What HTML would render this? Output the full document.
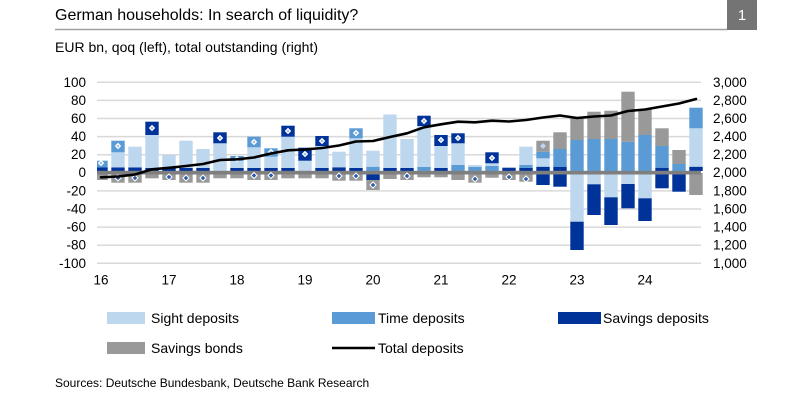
<!DOCTYPE html>
<html><head><meta charset="utf-8"><style>
html,body{margin:0;padding:0;background:#fff;}
svg{display:block;font-family:"Liberation Sans",Arial,sans-serif;}
.L{fill:#BDD7EE}.M{fill:#5B9BD5}.N{fill:#003399}.G{fill:#999999}
</style></head><body>
<svg width="806" height="406" viewBox="0 0 806 406" xmlns="http://www.w3.org/2000/svg">
<rect width="806" height="406" fill="#fff"/>
<text x="55" y="20" font-size="16" fill="#000">German households: In search of liquidity?</text>
<line x1="55" y1="29.5" x2="727" y2="29.5" stroke="#A0A0A0" stroke-width="1.5"/>
<rect x="727" y="0" width="30" height="30" fill="#747474"/>
<text x="742" y="20" font-size="15" fill="#fff" text-anchor="middle">1</text>
<text x="55" y="52" font-size="14" fill="#000">EUR bn, qoq (left), total outstanding (right)</text>

<g stroke="#D9D9D9" stroke-width="1.5">
<line x1="97" x2="701" y1="82.3" y2="82.3"/>
<line x1="97" x2="701" y1="100.4" y2="100.4"/>
<line x1="97" x2="701" y1="118.5" y2="118.5"/>
<line x1="97" x2="701" y1="136.6" y2="136.6"/>
<line x1="97" x2="701" y1="154.7" y2="154.7"/>
<line x1="97" x2="701" y1="190.9" y2="190.9"/>
<line x1="97" x2="701" y1="209" y2="209"/>
<line x1="97" x2="701" y1="227.1" y2="227.1"/>
<line x1="97" x2="701" y1="245.2" y2="245.2"/>
<line x1="97" x2="701" y1="263.3" y2="263.3"/>
</g>

<g font-size="13.5" fill="#000" text-anchor="end">
<text x="86" y="87">100</text>
<text x="86" y="105">80</text>
<text x="86" y="123">60</text>
<text x="86" y="141">40</text>
<text x="86" y="159">20</text>
<text x="86" y="177">0</text>
<text x="86" y="195.5">-20</text>
<text x="86" y="213.5">-40</text>
<text x="86" y="231.5">-60</text>
<text x="86" y="249.5">-80</text>
<text x="86" y="268">-100</text>
</g>
<g font-size="13.5" fill="#000">
<text x="713" y="87">3,000</text>
<text x="713" y="105">2,800</text>
<text x="713" y="123">2,600</text>
<text x="713" y="141">2,400</text>
<text x="713" y="159">2,200</text>
<text x="713" y="177">2,000</text>
<text x="713" y="195.5">1,800</text>
<text x="713" y="213.5">1,600</text>
<text x="713" y="231.5">1,400</text>
<text x="713" y="249.5">1,200</text>
<text x="713" y="268">1,000</text>
</g>
<g font-size="13.5" fill="#000" text-anchor="middle">
<text x="101" y="284.5">16</text>
<text x="169" y="284.5">17</text>
<text x="237" y="284.5">18</text>
<text x="305" y="284.5">19</text>
<text x="373" y="284.5">20</text>
<text x="441" y="284.5">21</text>
<text x="509" y="284.5">22</text>
<text x="577" y="284.5">23</text>
<text x="645" y="284.5">24</text>
</g>

<!-- bars -->
<g>
<!-- 0 -->
<rect class="N" x="97" width="10.7" y="167.5" height="3.5"/>
<rect class="M" x="97" width="10.7" y="160.7" height="6.8"/>
<rect class="G" x="97" width="10.7" y="173" height="7"/>
<!-- 1 -->
<rect class="N" x="111.3" width="13.4" y="167.5" height="3.5"/>
<rect class="L" x="111.3" width="13.4" y="152.3" height="15.2"/>
<rect class="M" x="111.3" width="13.4" y="140.7" height="11.6"/>
<rect class="G" x="111.3" width="13.4" y="173" height="9.7"/>
<!-- 2 -->
<rect class="N" x="128.3" width="13.4" y="167.5" height="3.5"/>
<rect class="L" x="128.3" width="13.4" y="146.7" height="20.8"/>
<rect class="G" x="128.3" width="13.4" y="173" height="9.7"/>
<!-- 3 -->
<rect class="N" x="145.3" width="13.4" y="168" height="3"/>
<rect class="L" x="145.3" width="13.4" y="135" height="33"/>
<rect class="N" x="145.3" width="13.4" y="121.7" height="13.3"/>
<rect class="G" x="145.3" width="13.4" y="173" height="5.3"/>
<!-- 4 -->
<rect class="N" x="162.3" width="13.4" y="168" height="3"/>
<rect class="L" x="162.3" width="13.4" y="155" height="13"/>
<rect class="G" x="162.3" width="13.4" y="173" height="7"/>
<!-- 5 -->
<rect class="N" x="179.3" width="13.4" y="168" height="3"/>
<rect class="L" x="179.3" width="13.4" y="140.7" height="27.3"/>
<rect class="G" x="179.3" width="13.4" y="173" height="9.7"/>
<!-- 6 -->
<rect class="N" x="196.3" width="13.4" y="168" height="3"/>
<rect class="L" x="196.3" width="13.4" y="149" height="19"/>
<rect class="G" x="196.3" width="13.4" y="173" height="9.7"/>
<!-- 7 -->
<rect class="L" x="213.3" width="13.4" y="143.3" height="27.7"/>
<rect class="N" x="213.3" width="13.4" y="132.3" height="11"/>
<rect class="G" x="213.3" width="13.4" y="173" height="5.3"/>
<!-- 8 -->
<rect class="N" x="230.3" width="13.4" y="168" height="3"/>
<rect class="L" x="230.3" width="13.4" y="161" height="7"/>
<rect class="M" x="230.3" width="13.4" y="156" height="5"/>
<rect class="G" x="230.3" width="13.4" y="173" height="5.3"/>
<!-- 9 -->
<rect class="N" x="247.3" width="13.4" y="168" height="3"/>
<rect class="L" x="247.3" width="13.4" y="147.3" height="20.7"/>
<rect class="M" x="247.3" width="13.4" y="136.7" height="10.6"/>
<rect class="G" x="247.3" width="13.4" y="173" height="7"/>
<!-- 10 -->
<rect class="N" x="264.3" width="13.4" y="168" height="3"/>
<rect class="L" x="264.3" width="13.4" y="156.7" height="11.3"/>
<rect class="M" x="264.3" width="13.4" y="148.3" height="8.4"/>
<rect class="G" x="264.3" width="13.4" y="173" height="7"/>
<!-- 11 -->
<rect class="N" x="281.3" width="13.4" y="168" height="3"/>
<rect class="L" x="281.3" width="13.4" y="136.7" height="31.3"/>
<rect class="N" x="281.3" width="13.4" y="125.7" height="11"/>
<rect class="G" x="281.3" width="13.4" y="173" height="5.3"/>
<!-- 12 -->
<rect class="L" x="298.3" width="13.4" y="160.7" height="10.3"/>
<rect class="N" x="298.3" width="13.4" y="147.7" height="13"/>
<rect class="G" x="298.3" width="13.4" y="173" height="5.3"/>
<!-- 13 -->
<rect class="N" x="315.3" width="13.4" y="168" height="3"/>
<rect class="L" x="315.3" width="13.4" y="146" height="22"/>
<rect class="N" x="315.3" width="13.4" y="136" height="10"/>
<rect class="G" x="315.3" width="13.4" y="173" height="5.3"/>
<!-- 14 -->
<rect class="N" x="332.3" width="13.4" y="167.3" height="3.7"/>
<rect class="L" x="332.3" width="13.4" y="151.7" height="15.6"/>
<rect class="G" x="332.3" width="13.4" y="173" height="7.7"/>
<!-- 15 -->
<rect class="N" x="349.3" width="13.4" y="168" height="3"/>
<rect class="L" x="349.3" width="13.4" y="138.3" height="29.7"/>
<rect class="M" x="349.3" width="13.4" y="128.3" height="10"/>
<rect class="G" x="349.3" width="13.4" y="173" height="7.7"/>
<!-- 16 -->
<rect class="M" x="366.3" width="13.4" y="166.7" height="4.3"/>
<rect class="L" x="366.3" width="13.4" y="150.7" height="16"/>
<rect class="N" x="366.3" width="13.4" y="173" height="7"/>
<rect class="G" x="366.3" width="13.4" y="180" height="10"/>
<!-- 17 -->
<rect class="N" x="383.3" width="13.4" y="168" height="3"/>
<rect class="L" x="383.3" width="13.4" y="114.5" height="53.5"/>
<rect class="G" x="383.3" width="13.4" y="173" height="6"/>
<!-- 18 -->
<rect class="N" x="400.3" width="13.4" y="168" height="3"/>
<rect class="L" x="400.3" width="13.4" y="139" height="29"/>
<rect class="G" x="400.3" width="13.4" y="173" height="7"/>
<!-- 19 -->
<rect class="M" x="417.3" width="13.4" y="167" height="4"/>
<rect class="L" x="417.3" width="13.4" y="126" height="41"/>
<rect class="N" x="417.3" width="13.4" y="115.7" height="10.3"/>
<rect class="G" x="417.3" width="13.4" y="173" height="4.3"/>
<!-- 20 -->
<rect class="N" x="434.3" width="13.4" y="168" height="3"/>
<rect class="L" x="434.3" width="13.4" y="146" height="22"/>
<rect class="N" x="434.3" width="13.4" y="135" height="11"/>
<rect class="G" x="434.3" width="13.4" y="173" height="4.3"/>
<!-- 21 -->
<rect class="M" x="451.3" width="13.4" y="165" height="6"/>
<rect class="L" x="451.3" width="13.4" y="143.3" height="21.7"/>
<rect class="N" x="451.3" width="13.4" y="133.3" height="10"/>
<rect class="G" x="451.3" width="13.4" y="173" height="7"/>
<!-- 22 -->
<rect class="M" x="468.3" width="13.4" y="167" height="4"/>
<rect class="L" x="468.3" width="13.4" y="165" height="2"/>
<rect class="G" x="468.3" width="13.4" y="173" height="9.7"/>
<!-- 23 -->
<rect class="M" x="485.3" width="13.4" y="166" height="5"/>
<rect class="L" x="485.3" width="13.4" y="163.3" height="2.7"/>
<rect class="N" x="485.3" width="13.4" y="152.3" height="11"/>
<rect class="G" x="485.3" width="13.4" y="173" height="4.7"/>
<!-- 24 -->
<rect class="N" x="502.3" width="13.4" y="167.7" height="3.3"/>
<rect class="G" x="502.3" width="13.4" y="173" height="7"/>
<!-- 25 -->
<rect class="N" x="519.3" width="13.4" y="168" height="3"/>
<rect class="M" x="519.3" width="13.4" y="165" height="3"/>
<rect class="L" x="519.3" width="13.4" y="146.7" height="18.3"/>
<rect class="G" x="519.3" width="13.4" y="173" height="8.7"/>
<!-- 26 -->
<rect class="N" x="536.3" width="13.4" y="166.7" height="4.3"/>
<rect class="L" x="536.3" width="13.4" y="158.3" height="8.4"/>
<rect class="M" x="536.3" width="13.4" y="151.7" height="6.6"/>
<rect class="G" x="536.3" width="13.4" y="140.7" height="11"/>
<rect class="N" x="536.3" width="13.4" y="173" height="12"/>
<!-- 27 -->
<rect class="N" x="553.3" width="13.4" y="166.7" height="4.3"/>
<rect class="M" x="553.3" width="13.4" y="149" height="17.7"/>
<rect class="G" x="553.3" width="13.4" y="132.3" height="16.7"/>
<rect class="N" x="553.3" width="13.4" y="173" height="13.7"/>
<!-- 28 -->
<rect class="M" x="570.3" width="13.4" y="140" height="32"/>
<rect class="G" x="570.3" width="13.4" y="118.3" height="21.7"/>
<rect class="L" x="570.3" width="13.4" y="173" height="48.7"/>
<rect class="N" x="570.3" width="13.4" y="221.7" height="28.3"/>
<!-- 29 -->
<rect class="M" x="587.3" width="13.4" y="139" height="33"/>
<rect class="G" x="587.3" width="13.4" y="111.7" height="27.3"/>
<rect class="L" x="587.3" width="13.4" y="173" height="11.3"/>
<rect class="N" x="587.3" width="13.4" y="184.3" height="30.7"/>
<!-- 30 -->
<rect class="M" x="604.3" width="13.4" y="139" height="33"/>
<rect class="G" x="604.3" width="13.4" y="110.7" height="28.3"/>
<rect class="L" x="604.3" width="13.4" y="173" height="24.3"/>
<rect class="N" x="604.3" width="13.4" y="197.3" height="27.7"/>
<!-- 31 -->
<rect class="M" x="621.3" width="13.4" y="141.7" height="30.3"/>
<rect class="G" x="621.3" width="13.4" y="91.7" height="50"/>
<rect class="L" x="621.3" width="13.4" y="173" height="11"/>
<rect class="N" x="621.3" width="13.4" y="184" height="24.3"/>
<!-- 32 -->
<rect class="M" x="638.3" width="13.4" y="135" height="37"/>
<rect class="G" x="638.3" width="13.4" y="109" height="26"/>
<rect class="L" x="638.3" width="13.4" y="173" height="25.3"/>
<rect class="N" x="638.3" width="13.4" y="198.3" height="22.7"/>
<!-- 33 -->
<rect class="N" x="655.3" width="13.4" y="167.7" height="3.3"/>
<rect class="M" x="655.3" width="13.4" y="146" height="21.7"/>
<rect class="G" x="655.3" width="13.4" y="128.3" height="17.7"/>
<rect class="N" x="655.3" width="13.4" y="173" height="15.3"/>
<!-- 34 -->
<rect class="M" x="672.3" width="13.4" y="164" height="7"/>
<rect class="G" x="672.3" width="13.4" y="150" height="14"/>
<rect class="N" x="672.3" width="13.4" y="173" height="18.7"/>
<!-- 35 -->
<rect class="N" x="689.3" width="13.4" y="166.7" height="4.3"/>
<rect class="L" x="689.3" width="13.4" y="128.3" height="38.4"/>
<rect class="M" x="689.3" width="13.4" y="107.7" height="20.6"/>
<rect class="G" x="689.3" width="13.4" y="173" height="22"/>
</g>

<!-- zero line -->
<rect x="97" y="170.8" width="604" height="3.7" fill="#7F7F7F"/>

<!-- markers (positive, white diamonds) -->
<g fill="#fff">
<polygon transform="translate(101,163)" points="0,-3.2 3.2,0 0,3.2 -3.2,0"/>
<polygon transform="translate(118,146)" points="0,-3.2 3.2,0 0,3.2 -3.2,0"/>
<polygon transform="translate(152,128)" points="0,-3.2 3.2,0 0,3.2 -3.2,0"/>
<polygon transform="translate(220,138)" points="0,-3.2 3.2,0 0,3.2 -3.2,0"/>
<polygon transform="translate(237,159)" points="0,-3.2 3.2,0 0,3.2 -3.2,0"/>
<polygon transform="translate(254,142)" points="0,-3.2 3.2,0 0,3.2 -3.2,0"/>
<polygon transform="translate(271,152)" points="0,-3.2 3.2,0 0,3.2 -3.2,0"/>
<polygon transform="translate(288,131)" points="0,-3.2 3.2,0 0,3.2 -3.2,0"/>
<polygon transform="translate(305,154)" points="0,-3.2 3.2,0 0,3.2 -3.2,0"/>
<polygon transform="translate(322,141)" points="0,-3.2 3.2,0 0,3.2 -3.2,0"/>
<polygon transform="translate(356,133)" points="0,-3.2 3.2,0 0,3.2 -3.2,0"/>
<polygon transform="translate(424,121)" points="0,-3.2 3.2,0 0,3.2 -3.2,0"/>
<polygon transform="translate(441,140)" points="0,-3.2 3.2,0 0,3.2 -3.2,0"/>
<polygon transform="translate(458,138)" points="0,-3.2 3.2,0 0,3.2 -3.2,0"/>
<polygon transform="translate(492,158)" points="0,-3.2 3.2,0 0,3.2 -3.2,0"/>
</g>
<g fill="#7FA7D9">
<polygon transform="translate(101,163)" points="0,-1.3 1.3,0 0,1.3 -1.3,0"/>
<polygon transform="translate(118,146)" points="0,-1.3 1.3,0 0,1.3 -1.3,0"/>
<polygon transform="translate(152,128)" points="0,-1.3 1.3,0 0,1.3 -1.3,0"/>
<polygon transform="translate(220,138)" points="0,-1.3 1.3,0 0,1.3 -1.3,0"/>
<polygon transform="translate(237,159)" points="0,-1.3 1.3,0 0,1.3 -1.3,0"/>
<polygon transform="translate(254,142)" points="0,-1.3 1.3,0 0,1.3 -1.3,0"/>
<polygon transform="translate(271,152)" points="0,-1.3 1.3,0 0,1.3 -1.3,0"/>
<polygon transform="translate(288,131)" points="0,-1.3 1.3,0 0,1.3 -1.3,0"/>
<polygon transform="translate(305,154)" points="0,-1.3 1.3,0 0,1.3 -1.3,0"/>
<polygon transform="translate(322,141)" points="0,-1.3 1.3,0 0,1.3 -1.3,0"/>
<polygon transform="translate(356,133)" points="0,-1.3 1.3,0 0,1.3 -1.3,0"/>
<polygon transform="translate(424,121)" points="0,-1.3 1.3,0 0,1.3 -1.3,0"/>
<polygon transform="translate(441,140)" points="0,-1.3 1.3,0 0,1.3 -1.3,0"/>
<polygon transform="translate(458,138)" points="0,-1.3 1.3,0 0,1.3 -1.3,0"/>
<polygon transform="translate(492,158)" points="0,-1.3 1.3,0 0,1.3 -1.3,0"/>
</g>
<polygon transform="translate(543,146)" points="0,-3 3,0 0,3 -3,0" fill="#BFD4EE"/>
<!-- markers in negative (gray) -->
<g fill="#2E5AAC" stroke="#fff" stroke-width="1">
<polygon transform="translate(118,178)" points="0,-3 3,0 0,3 -3,0"/>
<polygon transform="translate(135,178)" points="0,-3 3,0 0,3 -3,0"/>
<polygon transform="translate(169,177)" points="0,-3 3,0 0,3 -3,0"/>
<polygon transform="translate(186,178)" points="0,-3 3,0 0,3 -3,0"/>
<polygon transform="translate(203,178)" points="0,-3 3,0 0,3 -3,0"/>
<polygon transform="translate(254,175.5)" points="0,-3 3,0 0,3 -3,0"/>
<polygon transform="translate(271,175.5)" points="0,-3 3,0 0,3 -3,0"/>
<polygon transform="translate(339,176)" points="0,-3 3,0 0,3 -3,0"/>
<polygon transform="translate(356,176)" points="0,-3 3,0 0,3 -3,0"/>
<polygon transform="translate(373,185)" points="0,-3 3,0 0,3 -3,0"/>
<polygon transform="translate(407,176)" points="0,-3 3,0 0,3 -3,0"/>
<polygon transform="translate(475,179)" points="0,-3 3,0 0,3 -3,0"/>
<polygon transform="translate(509,177)" points="0,-3 3,0 0,3 -3,0"/>
<polygon transform="translate(526,179)" points="0,-3 3,0 0,3 -3,0"/>
</g>

<!-- total deposits line -->
<polyline fill="none" stroke="#000" stroke-width="2.6" stroke-linejoin="round" stroke-linecap="round" points="101,177.3 118,176.5 135,174.5 152,169.3 169,167.8 186,166 203,164 220,160 237,159.3 254,157.5 271,153.5 288,150.3 305,149.5 322,148 339,145.5 356,141.5 373,141 390,137 407,133.3 424,127.3 441,124.3 458,121.7 475,122.3 492,120.7 509,121.5 526,120 543,117.5 560,115.5 577,118 594,116.5 611,115.5 628,111 645,109.5 662,106.5 679,103.5 696,99"/>

<!-- legend -->
<rect x="107" y="312" width="38" height="12" fill="#BDD7EE"/>
<text x="151" y="323" font-size="14" fill="#000">Sight deposits</text>
<rect x="332" y="312" width="43" height="12" fill="#5B9BD5"/>
<text x="378" y="323" font-size="14" fill="#000">Time deposits</text>
<rect x="558" y="312" width="43" height="12" fill="#003399"/>
<text x="603" y="323" font-size="14" fill="#000">Savings deposits</text>
<rect x="107" y="342" width="38" height="12" fill="#999999"/>
<text x="151" y="353" font-size="14" fill="#000">Savings bonds</text>
<line x1="332" y1="348" x2="375" y2="348" stroke="#000" stroke-width="2.6"/>
<text x="378" y="353" font-size="14" fill="#000">Total deposits</text>

<text x="55" y="387" font-size="12" fill="#000">Sources: Deutsche Bundesbank, Deutsche Bank Research</text>
</svg>
</body></html>
